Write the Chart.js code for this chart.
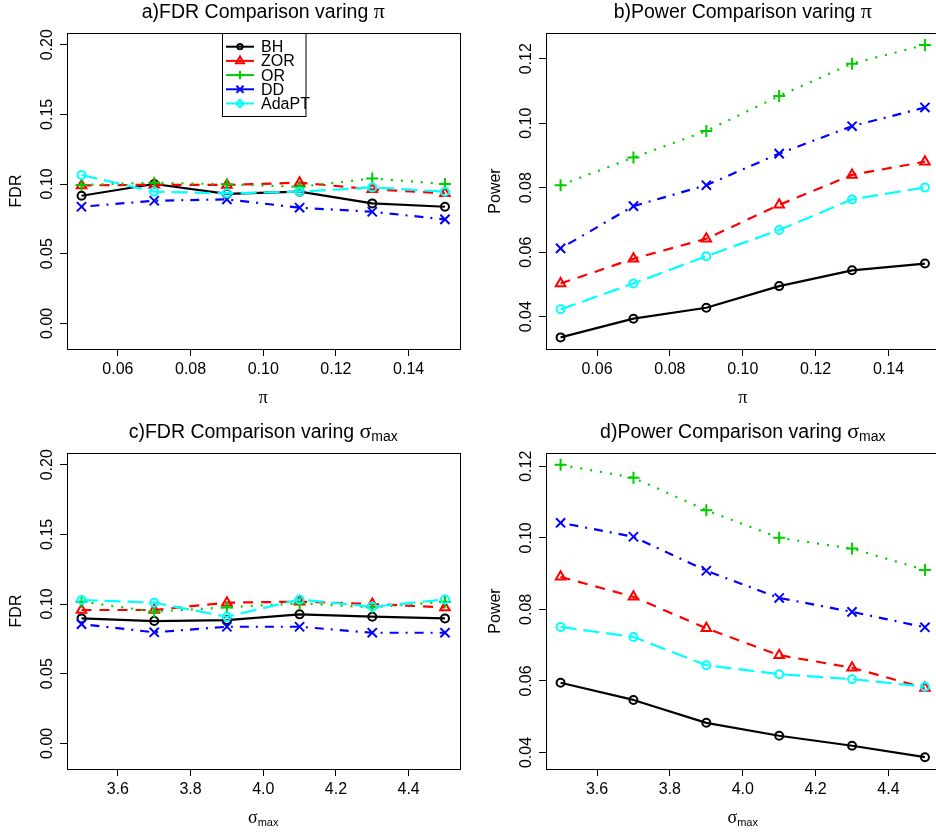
<!DOCTYPE html>
<html>
<head>
<meta charset="utf-8">
<script src="https://cdn.jsdelivr.net/npm/chart.js@4.4.0/dist/chart.umd.min.js"></script>
<style>
  html, body { margin: 0; padding: 0; background: #fff; overflow: hidden; }
  body { width: 936px; height: 833px; position: relative; }
  canvas { position: absolute; }
</style>
</head>
<body>
<canvas id="pa" width="468" height="413" style="left:0;top:0"></canvas>
<canvas id="pb" width="480" height="413" style="left:468px;top:0"></canvas>
<canvas id="pc" width="468" height="413" style="left:0;top:420px"></canvas>
<canvas id="pd" width="480" height="413" style="left:468px;top:420px"></canvas>
<script>
// methods, in plotting order
const methods = ['BH', 'ZOR', 'OR', 'DD', 'AdaPT'];

const piValues = [0.05, 0.07, 0.09, 0.11, 0.13, 0.15];
const sigmaValues = [3.5, 3.7, 3.9, 4.1, 4.3, 4.5];

const piTicks = [0.06, 0.08, 0.10, 0.12, 0.14];
const sigmaTicks = [3.6, 3.8, 4.0, 4.2, 4.4];
const fdrTicks = [0.00, 0.05, 0.10, 0.15, 0.20];
const powerTicks = [0.04, 0.06, 0.08, 0.10, 0.12];

// rows follow the methods order: BH, ZOR, OR, DD, AdaPT
const fdrPi = [
  [0.0916, 0.1000, 0.0930, 0.0945, 0.0861, 0.0837],
  [0.0990, 0.0995, 0.0993, 0.1010, 0.0962, 0.0933],
  [0.0993, 0.1010, 0.0998, 0.0980, 0.1040, 0.1000],
  [0.0837, 0.0880, 0.0890, 0.0830, 0.0801, 0.0746],
  [0.1065, 0.0945, 0.0933, 0.0945, 0.0976, 0.0945]
];

const powerPi = [
  [0.0336, 0.0394, 0.0428, 0.0495, 0.0544, 0.0565],
  [0.0503, 0.0580, 0.0642, 0.0747, 0.0840, 0.0881],
  [0.0808, 0.0894, 0.0976, 0.1085, 0.1185, 0.1243],
  [0.0612, 0.0743, 0.0808, 0.0906, 0.0991, 0.1049],
  [0.0423, 0.0503, 0.0588, 0.0669, 0.0764, 0.0801]
];

const fdrSigma = [
  [0.0897, 0.0878, 0.0885, 0.0926, 0.0909, 0.0897],
  [0.0957, 0.0957, 0.1010, 0.1017, 0.1000, 0.0976],
  [0.1017, 0.0945, 0.0976, 0.1005, 0.0976, 0.1017],
  [0.0856, 0.0797, 0.0837, 0.0837, 0.0794, 0.0794],
  [0.1029, 0.1010, 0.0909, 0.1033, 0.0980, 0.1033]
];

const powerSigma = [
  [0.0595, 0.0547, 0.0483, 0.0447, 0.0419, 0.0387],
  [0.0891, 0.0835, 0.0747, 0.0672, 0.0637, 0.0580],
  [0.1204, 0.1168, 0.1077, 0.1000, 0.0970, 0.0910],
  [0.1042, 0.1003, 0.0908, 0.0832, 0.0793, 0.0750],
  [0.0751, 0.0723, 0.0644, 0.0619, 0.0605, 0.0584]
];

// R-like look
const colors = ['#000000', '#FF0000', '#00CD00', '#0000FF', '#00FFFF'];
const dashes = [[], [10, 8], [2, 8], [2, 7, 9, 7], [16, 7]];
const pointStyles = ['circle', 'triangle', 'cross', 'crossRot', 'circle'];
const pointSizes = [4, 5.5, 6, 6.5, 4];
const legendStyles = ['circle', 'triangle', 'cross', 'crossRot', 'rectRot'];
const legendSizes = [2.6, 4.5, 4.2, 5, 3.8];

const SANS = '"Liberation Sans", Arial, sans-serif';
const SERIF = '"Liberation Serif", "Times New Roman", serif';

function drawParts(ctx, parts, cx, baseline, size) {
  const fontOf = p => {
    let s = size;
    if (p.sub) s = Math.round(size * 0.7);
    if (p.greek) s = Math.round(size * 1.15);
    return s + 'px ' + (p.greek ? SERIF : SANS);
  };
  let w = 0;
  parts.forEach(p => { ctx.font = fontOf(p); w += ctx.measureText(p.t).width; });
  let x = cx - w / 2;
  ctx.textAlign = 'left';
  ctx.textBaseline = 'alphabetic';
  parts.forEach(p => {
    ctx.font = fontOf(p);
    ctx.fillText(p.t, x, baseline + (p.sub ? size * 0.17 : 0));
    x += ctx.measureText(p.t).width;
  });
}

const rbase = {
  id: 'rbase',
  afterDraw(chart, args, o) {
    const ctx = chart.ctx;
    const a = chart.chartArea;
    const ys = chart.scales.y;
    const cx = (a.left + a.right) / 2;
    ctx.save();

    // box round the plot
    ctx.strokeStyle = '#000';
    ctx.lineWidth = 1;
    ctx.setLineDash([]);
    const l = Math.round(a.left) + 0.5, t = Math.round(a.top) + 0.5;
    ctx.strokeRect(l, t, Math.round(a.right) - Math.round(a.left), Math.round(a.bottom) - Math.round(a.top));

    // y tick labels, turned like R does
    ctx.fillStyle = '#000';
    ctx.font = '16px ' + SANS;
    ctx.textAlign = 'center';
    ctx.textBaseline = 'middle';
    ys.ticks.forEach(tk => {
      const py = ys.getPixelForValue(tk.value);
      ctx.save();
      ctx.translate(a.left - 19, py);
      ctx.rotate(-Math.PI / 2);
      ctx.fillText(tk.value.toFixed(2), 0, 0);
      ctx.restore();
    });

    // y axis title
    ctx.save();
    ctx.translate(a.left - 50, (a.top + a.bottom) / 2);
    ctx.rotate(-Math.PI / 2);
    ctx.fillText(o.ylab, 0, 0);
    ctx.restore();

    // main title and x axis title
    drawParts(ctx, o.title, cx, 17.5, 19.5);
    drawParts(ctx, o.xlab, cx, 403, 16);

    // legend (solid lines, as in the original)
    if (o.legend) {
      const bx = 222.5, by = 33.5, bw = 83.5, bh = 83;
      ctx.strokeStyle = '#000';
      ctx.lineWidth = 1;
      ctx.strokeRect(bx, by, bw, bh);
      methods.forEach((m, i) => {
        const y = 46.7 + i * 14.2;
        ctx.strokeStyle = colors[i];
        ctx.fillStyle = 'rgba(0,0,0,0)';
        ctx.lineWidth = 2;
        ctx.setLineDash([]);
        ctx.beginPath();
        ctx.moveTo(226, y);
        ctx.lineTo(254, y);
        ctx.stroke();
        Chart.helpers.drawPoint(ctx, { pointStyle: legendStyles[i], radius: legendSizes[i], rotation: 0, borderWidth: 2 }, 240, y);
        ctx.fillStyle = '#000';
        ctx.font = '16px ' + SANS;
        ctx.textAlign = 'left';
        ctx.textBaseline = 'middle';
        ctx.fillText(m, 261, y + 1);
      });
    }
    ctx.restore();
  }
};

function makeChart(id, p) {
  const datasets = p.rows.map((row, i) => ({
    label: methods[i],
    data: p.xs.map((x, j) => ({ x: x, y: row[j] })),
    borderColor: colors[i],
    borderWidth: 2.2,
    borderDash: dashes[i],
    borderCapStyle: 'butt',
    borderJoinStyle: 'round',
    pointStyle: pointStyles[i],
    pointRadius: pointSizes[i],
    pointBorderWidth: 2,
    pointBorderColor: colors[i],
    pointBackgroundColor: 'rgba(0,0,0,0)',
    tension: 0,
    fill: false,
    order: methods.length - i
  }));

  return new Chart(document.getElementById(id), {
    type: 'line',
    data: { datasets: datasets },
    options: {
      responsive: false,
      animation: false,
      events: [],
      layout: { padding: { top: 33, right: 5, left: 0, bottom: 0 } },
      plugins: {
        legend: { display: false },
        tooltip: { enabled: false },
        title: { display: false },
        rbase: { title: p.title, xlab: p.xlab, ylab: p.ylab, legend: p.legend }
      },
      scales: {
        x: {
          type: 'linear',
          min: p.xmin,
          max: p.xmax,
          afterBuildTicks: s => { s.ticks = p.xticks.map(v => ({ value: v })); },
          afterFit: s => { s.height = 64; },
          grid: { drawOnChartArea: false, drawTicks: true, tickLength: 7, color: '#000', lineWidth: 1 },
          border: { display: true, color: '#000', width: 1 },
          ticks: {
            color: '#000',
            font: { family: SANS, size: 16 },
            padding: 4,
            minRotation: 0,
            maxRotation: 0,
            autoSkip: false,
            callback: v => v.toFixed(p.xdigits)
          }
        },
        y: {
          type: 'linear',
          min: p.ymin,
          max: p.ymax,
          afterBuildTicks: s => { s.ticks = p.yticks.map(v => ({ value: v })); },
          afterFit: s => { s.width = p.left; },
          grid: { drawOnChartArea: false, drawTicks: true, tickLength: 7, color: '#000', lineWidth: 1 },
          border: { display: true, color: '#000', width: 1 },
          ticks: { display: false }
        }
      }
    },
    plugins: [rbase]
  });
}

makeChart('pa', {
  rows: fdrPi, xs: piValues, xticks: piTicks, yticks: fdrTicks,
  xmin: 0.046, xmax: 0.154, ymin: -0.0184, ymax: 0.2084, xdigits: 2, left: 67,
  title: [{ t: 'a)FDR Comparison varing ' }, { t: 'π', greek: true }],
  xlab: [{ t: 'π', greek: true }], ylab: 'FDR', legend: true
});

makeChart('pb', {
  rows: powerPi, xs: piValues, xticks: piTicks, yticks: powerTicks,
  xmin: 0.046, xmax: 0.154, ymin: 0.0300, ymax: 0.1280, xdigits: 2, left: 78,
  title: [{ t: 'b)Power Comparison varing ' }, { t: 'π', greek: true }],
  xlab: [{ t: 'π', greek: true }], ylab: 'Power', legend: false
});

makeChart('pc', {
  rows: fdrSigma, xs: sigmaValues, xticks: sigmaTicks, yticks: fdrTicks,
  xmin: 3.46, xmax: 4.54, ymin: -0.0184, ymax: 0.2084, xdigits: 1, left: 67,
  title: [{ t: 'c)FDR Comparison varing ' }, { t: 'σ', greek: true }, { t: 'max', sub: true }],
  xlab: [{ t: 'σ', greek: true }, { t: 'max', sub: true }], ylab: 'FDR', legend: false
});

makeChart('pd', {
  rows: powerSigma, xs: sigmaValues, xticks: sigmaTicks, yticks: powerTicks,
  xmin: 3.46, xmax: 4.54, ymin: 0.0354, ymax: 0.1237, xdigits: 1, left: 78,
  title: [{ t: 'd)Power Comparison varing ' }, { t: 'σ', greek: true }, { t: 'max', sub: true }],
  xlab: [{ t: 'σ', greek: true }, { t: 'max', sub: true }], ylab: 'Power', legend: false
});
</script>
</body>
</html>
